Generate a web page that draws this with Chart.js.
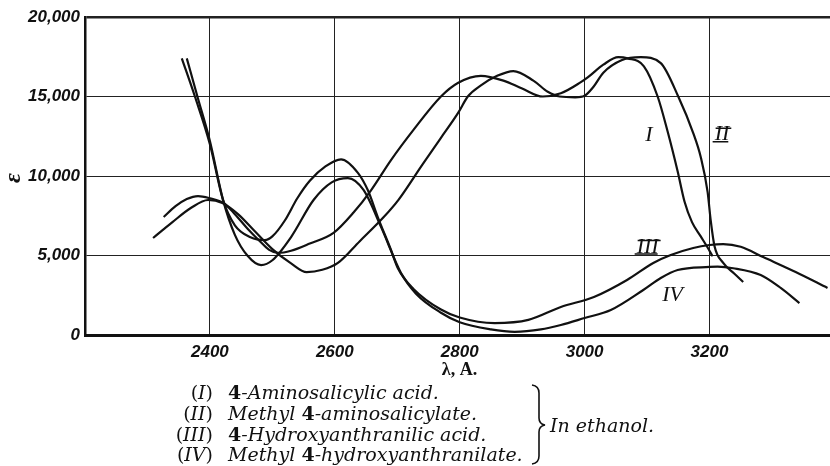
<!DOCTYPE html>
<html>
<head>
<meta charset="utf-8">
<script src="https://cdn.jsdelivr.net/npm/chart.js@4/dist/chart.umd.min.js"></script>
<style>
  html, body { margin: 0; padding: 0; background: #fff; }
  #wrap { position: relative; width: 830px; height: 466px; overflow: hidden; }
  #chart { position: absolute; left: 0; top: 0; }
  .row { position: absolute; left: 0; width: 830px; height: 21px; line-height: 21px;
         font-family: "DejaVu Serif", serif; font-size: 19px; color: #111; white-space: nowrap; }
  .num { position: absolute; right: 617px; text-align: right; }
  .name { position: absolute; left: 228px; font-style: italic; }
  .digit { font-style: normal; font-weight: bold; }
  #solvent { position: absolute; left: 550px; top: 414px; font-family: "DejaVu Serif", serif;
             font-size: 19px; font-style: italic; color: #111; }
  #brace { position: absolute; left: 0; top: 0; }
</style>
</head>
<body>
<div id="wrap">
  <canvas id="chart" width="830" height="466"></canvas>
  <svg id="brace" width="830" height="466">
    <path d="M532 385 Q539 386 539 393 L539 418 Q539 424 545 425 Q539 426 539 432 L539 456 Q539 463 532 464"
          fill="none" stroke="#111" stroke-width="1.6"/>
  </svg>
  <div id="solvent">In ethanol.</div>
</div>
<script>
// Absorption spectra (λ in Å, ε)

// (I) 4-Aminosalicylic acid
const wavelengthI = [2326, 2345, 2363, 2381, 2400, 2422, 2440, 2460, 2480, 2495, 2509, 2530, 2560, 2598, 2630,
  2658, 2690, 2726, 2770, 2797, 2834, 2870, 2900, 2933, 2962, 2994, 3005, 3030, 3054, 3069, 3095, 3117,
  3133, 3149, 3160, 3172, 3186, 3197, 3205];
const epsilonI = [7420, 8100, 8550, 8740, 8600, 8300, 7600, 6700, 5900, 5350, 5160, 5300, 5750, 6420, 7700,
  9100, 11000, 12900, 15000, 15850, 16300, 16000, 15500, 15000, 15200, 15900, 16200, 17000, 17480, 17400, 16900, 15000,
  12800, 10300, 8400, 7100, 6200, 5500, 4950];

// (II) Methyl 4-aminosalicylate
const wavelengthII = [2309, 2340, 2370, 2397, 2420, 2445, 2470, 2500, 2530, 2555, 2580, 2605, 2640, 2678, 2702,
  2740, 2770, 2798, 2813, 2834, 2860, 2886, 2918, 2941, 2960, 2985, 3000, 3014, 3030, 3060, 3090, 3122,
  3150, 3174, 3186, 3197, 3202, 3208, 3222, 3240, 3254];
const epsilonII = [6100, 7100, 8000, 8490, 8300, 7600, 6600, 5400, 4500, 3950, 4100, 4530, 5900, 7400, 8500,
  10700, 12400, 14000, 15000, 15700, 16300, 16600, 16000, 15300, 15000, 14950, 15050, 15600, 16500, 17300, 17480, 17100,
  15000, 12700, 11200, 9000, 7200, 5600, 4530, 3850, 3330];

// (III) 4-Hydroxyanthranilic acid
const wavelengthIII = [2355, 2376, 2400, 2421, 2440, 2465, 2488, 2500, 2520, 2540, 2560, 2585, 2610, 2637, 2653,
  2669, 2690, 2701, 2726, 2770, 2800, 2856, 2910, 2962, 3015, 3068, 3110, 3138, 3174, 3200, 3222, 3250,
  3286, 3338, 3389];
const epsilonIII = [17400, 15000, 12000, 8500, 6900, 6150, 5970, 6200, 7200, 8600, 9700, 10600, 11050, 10200, 9100,
  7400, 5350, 4200, 2900, 1600, 1100, 750, 950, 1760, 2390, 3460, 4530, 5030, 5470, 5660, 5720, 5550,
  4900, 3960, 2960];

// (IV) Methyl 4-hydroxyanthranilate
const wavelengthIV = [2363, 2380, 2400, 2421, 2440, 2460, 2482, 2500, 2530, 2566, 2595, 2621, 2646, 2674, 2706,
  2730, 2770, 2800, 2850, 2888, 2930, 2962, 3000, 3042, 3094, 3122, 3149, 3200, 3213, 3238, 3282, 3314, 3344];
const epsilonIV = [17400, 15000, 12200, 8500, 6300, 5000, 4400, 4700, 6160, 8490, 9600, 9870, 9120, 6800, 3900,
  2600, 1400, 800, 350, 200, 350, 630, 1070, 1570, 2830, 3585, 4090, 4280, 4300, 4200, 3770, 2960, 2010];

const xTickValues = [2200, 2400, 2600, 2800, 3000, 3200];
const yTickValues = [0, 5000, 10000, 15000, 20000];

// curve tags placed beside the curves
const curveTags = ['I', 'II', 'III', 'IV'];
const tagWavelength = [3103, 3220, 3101, 3141];
const tagEpsilon = [12550, 12600, 5540, 2520];

const legendNumerals = ['I', 'II', 'III', 'IV'];
const legendNames = ['4-Aminosalicylic acid.', 'Methyl 4-aminosalicylate.',
  '4-Hydroxyanthranilic acid.', 'Methyl 4-hydroxyanthranilate.'];

const curves = [
  [wavelengthI, epsilonI],
  [wavelengthII, epsilonII],
  [wavelengthIII, epsilonIII],
  [wavelengthIV, epsilonIV]
];

const datasets = curves.map(([wl, eps], i) => ({
  label: legendNames[i],
  data: wl.map((x, j) => ({x: x, y: eps[j]})),
  borderColor: '#111',
  borderWidth: 2.2,
  pointRadius: 0,
  fill: false,
  cubicInterpolationMode: 'monotone'
}));

// tags, ε and λ titles drawn on top of the plot
const extraText = {
  id: 'extraText',
  afterDraw(chart) {
    const ctx = chart.ctx;
    const xs = chart.scales.x, ys = chart.scales.y;
    ctx.save();
    ctx.fillStyle = '#111';
    ctx.strokeStyle = '#111';
    ctx.textAlign = 'center';
    ctx.textBaseline = 'middle';
    ctx.font = 'italic 22px "Liberation Serif"';
    curveTags.forEach((t, i) => {
      const px = xs.getPixelForValue(tagWavelength[i]);
      const py = ys.getPixelForValue(tagEpsilon[i]);
      ctx.fillText(t, px, py);
      // the II and III tags have joined serif bars, like the print
      if (t === 'II' || t === 'III') {
        const w = ctx.measureText(t).width;
        ctx.lineWidth = 1.5;
        ctx.beginPath();
        ctx.moveTo(px - w / 2 + 1, py - 6.5);
        ctx.lineTo(px + w / 2 + 2, py - 6.5);
        ctx.moveTo(px - w / 2 - 2, py + 7);
        ctx.lineTo(px + w / 2 - 1, py + 7);
        ctx.stroke();
      }
    });

    ctx.font = 'bold 18px "Liberation Serif"';
    ctx.fillText('λ, A.', (chart.chartArea.left + chart.chartArea.right) / 2 + 2, 370);

    ctx.translate(14, 178);
    ctx.rotate(-Math.PI / 2);
    ctx.font = 'bold italic 24px "Liberation Serif"';
    ctx.fillText('ε', 0, 0);
    ctx.restore();
  }
};

const tickFont = {family: 'Liberation Sans', size: 17, style: 'italic', weight: 'bold'};

new Chart(document.getElementById('chart').getContext('2d'), {
  type: 'line',
  data: {datasets: datasets},
  options: {
    responsive: false,
    animation: false,
    layout: {padding: {top: 17, left: 0, right: 0, bottom: 0}},
    plugins: {legend: {display: false}, tooltip: {enabled: false}},
    scales: {
      x: {
        type: 'linear',
        min: 2200,
        max: 3393,
        afterBuildTicks: s => { s.ticks = xTickValues.map(v => ({value: v})); },
        afterFit: s => { s.height = 131; },
        grid: {color: '#222', lineWidth: 1, drawTicks: false},
        border: {color: '#111', width: 3},
        ticks: {
          padding: 7, color: '#111', font: tickFont, autoSkip: false, maxRotation: 0,
          callback: v => (v === 2200 ? '' : String(v))
        }
      },
      y: {
        min: 0,
        max: 20000,
        afterBuildTicks: s => { s.ticks = yTickValues.map(v => ({value: v})); },
        afterFit: s => { s.width = 85; },
        grid: {
          color: '#222', drawTicks: false,
          lineWidth: c => (c.tick && c.tick.value === 20000 ? 2.5 : 1)
        },
        border: {color: '#111', width: 2.5},
        ticks: {
          padding: 5, color: '#111', font: tickFont,
          callback: v => v.toLocaleString('en-US')
        }
      }
    }
  },
  plugins: [extraText]
});

// legend block under the axis
const wrap = document.getElementById('wrap');
legendNames.forEach((name, i) => {
  const row = document.createElement('div');
  row.className = 'row';
  row.style.top = (382 + i * 20.8) + 'px';

  const num = document.createElement('span');
  num.className = 'num';
  num.append('(');
  const it = document.createElement('i');
  it.textContent = legendNumerals[i];
  num.append(it, ')');

  const nm = document.createElement('span');
  nm.className = 'name';
  name.split('4').forEach((part, k) => {
    if (k > 0) {
      const d = document.createElement('span');
      d.className = 'digit';
      d.textContent = '4';
      nm.append(d);
    }
    nm.append(part);
  });

  row.append(num, nm);
  wrap.appendChild(row);
});
</script>
</body>
</html>
